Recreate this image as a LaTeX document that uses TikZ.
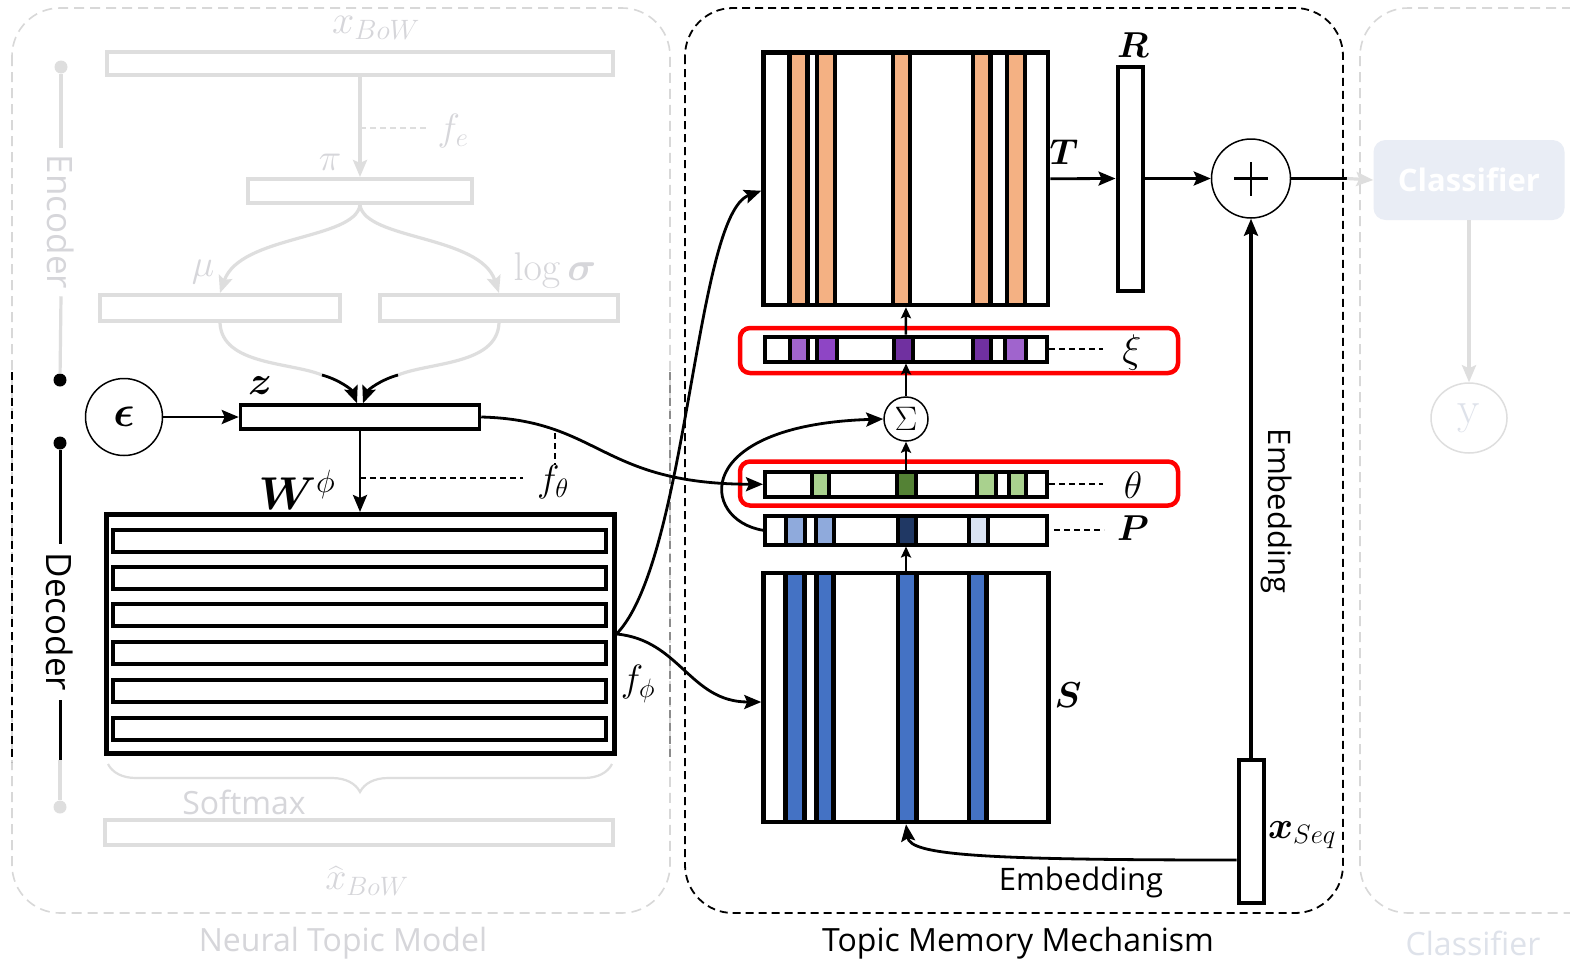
\RequirePackage{fix-cm}
\documentclass[tikz,border=0pt]{standalone}
\usepackage{amsmath,bm}
\usepackage[no-math]{fontspec}
\newfontfamily\sansui{Open Sans}
\usetikzlibrary{arrows.meta,decorations.pathreplacing,shapes.geometric}

\definecolor{ntmgray}{RGB}{222,222,222}
\definecolor{ntmtext}{RGB}{214,214,218}
\definecolor{framegray}{RGB}{216,216,216}
\definecolor{tOrange}{HTML}{F4B183}
\definecolor{xiLight}{HTML}{A064CD}
\definecolor{xiMid}{HTML}{8E45C5}
\definecolor{xiDark}{HTML}{7030A0}
\definecolor{thLight}{HTML}{A9D18E}
\definecolor{thDark}{HTML}{548235}
\definecolor{pLight}{HTML}{8FAADC}
\definecolor{pNavy}{HTML}{203864}
\definecolor{pPale}{HTML}{DAE3F3}
\definecolor{sBlue}{HTML}{4472C4}
\definecolor{hiRed}{HTML}{FF0000}
\definecolor{clsFill}{RGB}{233,237,245}
\definecolor{clsText}{RGB}{222,226,234}

\newcommand\setfs[1]{\fontsize{#1}{#1}\selectfont}

\begin{document}
\begin{tikzpicture}[x=1pt,y=-1pt,
  gbox/.style={draw=ntmgray, line width=4pt, inner sep=0pt},
  bbox/.style={draw=black, fill=white, line width=4.5pt, inner sep=0pt},
  rowbox/.style={draw=black, line width=4pt, inner sep=0pt, minimum width=493pt, minimum height=22pt},
  arr/.style={line width=2.8pt, -{Stealth[length=17pt,width=14pt,inset=3pt]}},
  sarr/.style={line width=2.5pt, -{Stealth[length=11pt,width=10pt,inset=2pt]}},
  garr/.style={draw=ntmgray, line width=3.2pt, -{Stealth[length=17pt,width=14pt,inset=3pt]}},
  gline/.style={draw=ntmgray, line width=3.2pt},
  dsh/.style={dash pattern=on 6pt off 4pt, line width=1.8pt},
  gdsh/.style={draw=ntmgray, dash pattern=on 6pt off 4pt, line width=1.8pt},
  mlbl/.style={inner sep=0pt},
  glbl/.style={inner sep=0pt, text=ntmtext},
  gdot/.style={circle, fill=ntmgray, inner sep=0pt, minimum size=13pt},
  bdot/.style={circle, fill=black, inner sep=0pt, minimum size=13pt},
  ring/.style={circle, draw, line width=1.5pt, inner sep=0pt},
]
\useasboundingbox (0,0) rectangle (1570,961);
\clip (0,0) rectangle (1570,961);
\fill[white] (0,0) rectangle (1570,961);

% ---------- the three frames ----------
\draw[framegray, dash pattern=on 10pt off 6pt, line width=1.6pt, rounded corners=48pt]
  (12,8) rectangle (670,913);
\draw[black, dash pattern=on 8pt off 5pt, line width=1.8pt] (12,372) -- (12,762);
\draw[black!45, dash pattern=on 8pt off 5pt, line width=1.8pt] (670,372) -- (670,762);
\draw[black, dash pattern=on 8pt off 5pt, line width=1.8pt, rounded corners=48pt]
  (685,8) rectangle (1343,913);
\draw[framegray, dash pattern=on 10pt off 6pt, line width=1.6pt, rounded corners=48pt]
  (1360,8) rectangle (1640,913);

\node[glbl, font=\sansui\setfs{32}] (ntmname) at (343,943) {Neural Topic Model};
\node[mlbl, font=\sansui\setfs{32}] (tmmname) at (1018,943) {Topic Memory Mechanism};
\node[glbl, font=\sansui\setfs{32}, text=clsText] (clsname) at (1473,943) {Classifier};

% ---------- encoder (faded) ----------
\node[gdot] (encTop) at (61,67) {};
\node[glbl, rotate=-90, inner sep=7pt, font=\sansui\setfs{35}] (enc) at (61,222) {Encoder};
\node[bdot] (encEnd) at (60,380) {};
\draw[gline] (encTop) -- (enc.west);
\draw[gline] (enc.east) -- (encEnd);

\node[gbox, minimum width=506pt, minimum height=23pt] (xbow) at (360,63.5) {};
\node[gbox, minimum width=224pt, minimum height=24pt] (pi) at (360,191) {};
\node[gbox, minimum width=240pt, minimum height=26pt] (mu) at (220,308) {};
\node[gbox, minimum width=238pt, minimum height=26pt] (lsig) at (499,308) {};
\node[glbl] (lxbow) at (376,28) {\setfs{40}$x_{BoW}$};
\node[glbl] (lpi) at (330,162) {\setfs{38}$\pi$};
\node[glbl] (lfe) at (453,131) {\setfs{38}$f_e$};
\node[glbl] (lmu) at (203,272) {\setfs{38}$\mu$};
\node[glbl] (llsig) at (555,270) {\setfs{40}$\log\bm{\sigma}$};

\coordinate (feTick) at (360,128);
\draw[garr] (xbow) -- (pi);
\draw[gdsh] (feTick) -- ++(68,0);
\draw[garr] (pi.south) .. controls (355,240) and (240,235) .. (mu.north);
\draw[garr] (pi.south) .. controls (365,240) and (480,235) .. (lsig.north);

% ---------- decoder ----------
\node[bdot] (decTop) at (60,443) {};
\node[mlbl, rotate=-90, inner sep=9pt, font=\sansui\setfs{35}] (dec) at (60,622) {Decoder};
\coordinate (decMid) at (60,760);
\node[gdot] (decEnd) at (60,807) {};
\draw[line width=3pt] (decTop) -- (dec.west);
\draw[line width=3pt] (dec.east) -- (decMid);
\draw[gline] (decMid) -- (decEnd);

\node[ring, minimum size=77pt] (eps) at (124,417) {\setfs{44}$\bm{\epsilon}$};
\node[bbox, line width=3.5pt, minimum width=239pt, minimum height=24pt] (z) at (360,417) {};
\node[mlbl] (lz) at (260,386) {\setfs{40}$\bm{z}$};
\draw[arr] (eps) -- (z);

\coordinate (mj) at (322,375);
\coordinate (lj) at (398,375);
\draw[gline] (mu.south) .. controls (222,365) and (290,362) .. (mj);
\draw[gline] (lsig.south) .. controls (497,365) and (430,362) .. (lj);
\draw[arr] (mj) .. controls (340,380) and (352,390) .. ([xshift=-3pt]z.north);
\draw[arr] (lj) .. controls (380,380) and (368,390) .. ([xshift=3pt]z.north);

\node[bbox, line width=5pt, minimum width=508pt, minimum height=239pt] (W) at (360,634) {};
\foreach \yy [count=\i] in {541,578,615,653,691,729}
  \node[rowbox] (w\i) at (359.5,\yy) {};
\node[mlbl] (lW) at (297,490) {\setfs{46}$\bm{W}^{\phi}$};
\draw[arr] (z) -- (W);
\coordinate (fthTick) at (360,478);
\node[mlbl] (lfth) at (553,482) {\setfs{38}$f_\theta$};
\draw[dsh] (fthTick) -- ++(163,0);
\coordinate (fthUp) at (555,433);
\draw[dsh] (fthUp) -- (fthUp |- lfth.north);
\node[mlbl] (lfphi) at (638,684) {\setfs{38}$f_\phi$};

\draw[ntmgray, line width=2.2pt, decorate, decoration={brace, mirror, amplitude=28pt}]
  (108,764) -- (612,764);
\node[glbl, font=\sansui\setfs{32}] (lsoft) at (244,802) {Softmax};
\node[gbox, minimum width=508pt, minimum height=25pt] (xhat) at (359,832.5) {};
\node[glbl] (lxhat) at (367,881) {\setfs{38}$\widehat{x}_{BoW}$};

% ---------- topic memory ----------
\node[bbox, minimum width=284.5pt, minimum height=252.5pt] (T) at (905.75,178.75) {};
\foreach \a/\b in {789.5/807.5, 817/835, 893/910, 973/990.5, 1007/1025}
  \draw[line width=4.5pt, fill=tOrange] (\a,52.5) rectangle (\b,305);

\node[bbox, line width=4pt, minimum width=282pt, minimum height=25pt] (xi) at (906,349) {};
\foreach \a/\b/\c in {789.5/807.5/xiLight, 817/836.5/xiMid, 894/912.5/xiDark, 972.5/990.5/xiDark, 1004.5/1025.5/xiLight}
  \draw[line width=4pt, fill=\c] (\a,336.5) rectangle (\b,361.5);

\node[ring, minimum size=44pt] (sig) at (906,419) {\setfs{34}$\Sigma$};

\node[bbox, line width=4pt, minimum width=282pt, minimum height=25.5pt] (th) at (906,484.25) {};
\foreach \a/\b/\c in {811.5/829/thLight, 897/916/thDark, 977/995.5/thLight, 1009/1025.5/thLight}
  \draw[line width=4pt, fill=\c] (\a,471.5) rectangle (\b,497);

\node[bbox, line width=4pt, minimum width=282pt, minimum height=28.5pt] (P) at (906,530.25) {};
\foreach \a/\b/\c in {785.5/804.5/pLight, 815.5/833.5/pLight, 898/915.5/pNavy, 969/987.5/pPale}
  \draw[line width=4pt, fill=\c] (\a,516) rectangle (\b,544.5);

\node[bbox, minimum width=285pt, minimum height=249pt] (S) at (906,697.5) {};
\foreach \a/\b in {785.5/804.5, 816.5/833.5, 898/916.5, 969/986.5}
  \draw[line width=4.5pt, fill=sBlue] (\a,573) rectangle (\b,822);

\node[draw=hiRed, line width=4.5pt, rounded corners=10pt, minimum width=438pt, minimum height=45pt] (hlxi) at (959,350.5) {};
\node[draw=hiRed, line width=4.5pt, rounded corners=10pt, minimum width=438pt, minimum height=44pt] (hlth) at (959,483.5) {};

\draw[sarr] (th) -- (sig);
\draw[sarr] (sig) -- (xi);
\draw[sarr] (xi) -- (T);
\draw[sarr] (S) -- (P);

\draw[dsh] (xi.east) -- ++(54,0);
\draw[dsh] (th.east) -- ++(54,0);
\draw[dsh] ([xshift=5pt]P.east) -- ++(50,0);
\node[mlbl] (lxi) at (1132,352) {\setfs{40}$\xi$};
\node[mlbl] (lth) at (1133,485) {\setfs{38}$\theta$};
\node[mlbl] (lP) at (1133,528) {\setfs{36}$\bm{P}$};
\node[mlbl] (lS) at (1068,695) {\setfs{36}$\bm{S}$};
\node[mlbl] (lT) at (1064,152) {\setfs{36}$\bm{T}$};

\draw[arr] (P.west) .. controls (700,520) and (690,425) .. (sig.west);
\draw[arr] (z.east) .. controls (600,420) and (600,484) .. (th.west);
\draw[arr] (W.east) .. controls (688,560) and (695,215) .. ([yshift=-12pt]T.west);
\draw[arr] (W.east) .. controls (680,640) and (690,702) .. ([yshift=-4.5pt]S.west);

\node[bbox, line width=4pt, minimum width=25pt, minimum height=224pt] (R) at (1130,178.5) {};
\node[mlbl] (lR) at (1133,45) {\setfs{36}$\bm{R}$};
\node[ring, minimum size=79pt] (plus) at (1251,178.5) {};
\draw[line width=2.8pt] ([xshift=-17pt]plus.center) -- ([xshift=17pt]plus.center);
\draw[line width=2.8pt] ([yshift=-17pt]plus.center) -- ([yshift=17pt]plus.center);
\draw[arr] (T.east) -- (R.west);
\draw[arr] (R.east) -- (plus.west);

\node[bbox, line width=4pt, minimum width=25pt, minimum height=143pt] (xseq) at (1251,831.5) {};
\node[mlbl] (lxseq) at (1302,835) {\setfs{38}$\bm{x}_{Seq}$};
\draw[arr, line width=3.2pt] (xseq) -- (plus);
\node[mlbl, rotate=-90, font=\sansui\setfs{31}] (embv) at (1277,511) {Embedding};
\draw[arr] ([yshift=-28.5pt]xseq.west) .. controls (980,860) and (910,855) .. (S.south);
\node[mlbl, font=\sansui\setfs{31}] (embh) at (1081,882) {Embedding};

% ---------- classifier (faded) ----------
\coordinate (tmmOut) at (1347,178.5);
\draw[line width=2.8pt] (plus.east) -- (tmmOut);
\node[fill=clsFill, rounded corners=12pt, minimum width=191pt, minimum height=80pt,
      font=\sansui\bfseries\setfs{31}, text=white] (cls) at (1469,180) {Classifier};
\draw[garr] (tmmOut) -- (cls.west);
\node[ellipse, draw=ntmgray, line width=1.5pt, minimum width=76pt, minimum height=70pt,
      text=clsText] (yout) at (1469,418) {\setfs{46}y};
\draw[garr] (cls) -- (yout);
\end{tikzpicture}
\end{document}
